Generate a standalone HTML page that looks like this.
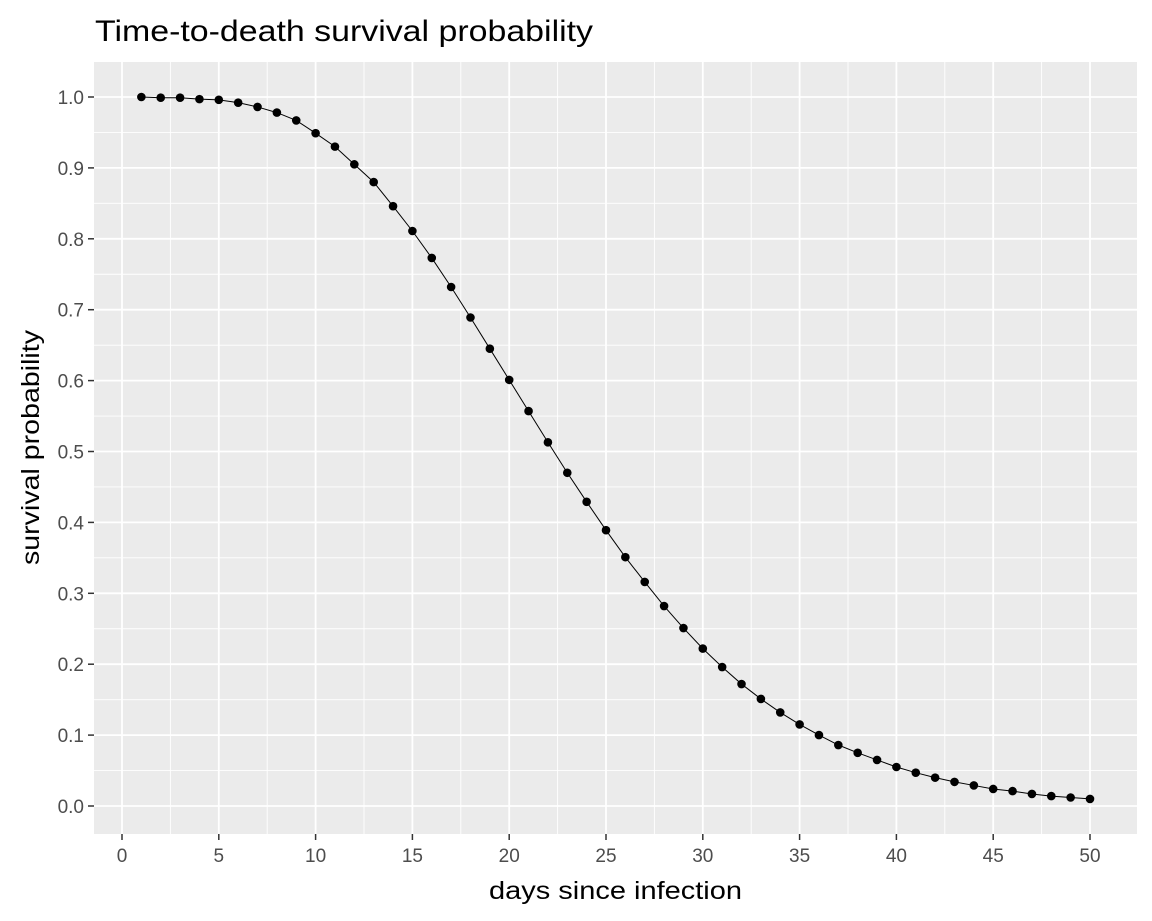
<!DOCTYPE html>
<html><head><meta charset="utf-8"><style>
body{margin:0;background:#fff;}
svg{display:block;font-family:"Liberation Sans",Arial,sans-serif;}
</style></head><body>
<svg id="chart" width="1152" height="921">
<text x="95" y="41" font-size="30" textLength="498" lengthAdjust="spacingAndGlyphs" fill="#000">Time-to-death survival probability</text>
<rect x="94" y="62" width="1043" height="772" fill="#ebebeb"/>
<g id="grid"></g><g id="axes"></g><g id="series"></g>
<text x="489" y="899" font-size="25" textLength="253" lengthAdjust="spacingAndGlyphs" fill="#000">days since infection</text>
<text transform="translate(39,565) rotate(-90)" font-size="25" textLength="235" lengthAdjust="spacingAndGlyphs" fill="#000">survival probability</text>
</svg>
<script>
const days = [];
for (let d = 1; d <= 50; d++) days.push(d);
const survival = [1.0,0.999,0.999,0.997,0.996,0.992,0.986,0.978,0.967,0.949,0.930,0.905,0.880,0.846,0.811,0.773,0.732,0.689,0.645,0.601,0.557,0.513,0.470,0.429,0.389,0.351,0.316,0.282,0.251,0.222,0.196,0.172,0.151,0.132,0.115,0.100,0.086,0.075,0.065,0.055,0.047,0.040,0.034,0.029,0.024,0.021,0.017,0.014,0.012,0.010];
const xTicks = [0,5,10,15,20,25,30,35,40,45,50];
const yTicks = [0.0,0.1,0.2,0.3,0.4,0.5,0.6,0.7,0.8,0.9,1.0];

const NS = "http://www.w3.org/2000/svg";
const x = v => 122 + v * 19.36;
const y = v => 806 - v * 709;
function mk(tag, attrs, parent) {
  const e = document.createElementNS(NS, tag);
  for (const k in attrs) e.setAttribute(k, attrs[k]);
  document.getElementById(parent).appendChild(e);
  return e;
}
for (let i = 0; i < xTicks.length + 1; i++) {
  const v = xTicks[0] - 2.5 + i * 5;
  if (x(v) < 94 || x(v) > 1137) continue;
  const l = mk("line", {x1:x(v), x2:x(v), y1:62, y2:834, stroke:"#fff", "stroke-width":0.9}, "grid");
  
  
}
for (let i = 0; i < yTicks.length + 1; i++) {
  const v = yTicks[0] - 0.05 + i * 0.1;
  if (y(v) < 62 || y(v) > 834) continue;
  const l = mk("line", {x1:94, x2:1137, y1:y(v), y2:y(v), stroke:"#fff", "stroke-width":0.9}, "grid");
  
  
}
xTicks.forEach(v => {
  const l = mk("line", {x1:x(v), x2:x(v), y1:62, y2:834, stroke:"#fff", "stroke-width":1.8}, "grid");
  
  
  const t = mk("line", {x1:x(v), x2:x(v), y1:834, y2:840, stroke:"#333", "stroke-width":1.5}, "axes");
  
  
  const tx = mk("text", {x:x(v), y:862, "font-size":19, fill:"#4d4d4d", "text-anchor":"middle"}, "axes");
  tx.textContent = v;
  
  
});
yTicks.forEach(v => {
  const l = mk("line", {x1:94, x2:1137, y1:y(v), y2:y(v), stroke:"#fff", "stroke-width":1.8}, "grid");
  
  
  const t = mk("line", {x1:88, x2:94, y1:y(v), y2:y(v), stroke:"#333", "stroke-width":1.5}, "axes");
  
  
  const tx = mk("text", {x:84, y:y(v)+7, "font-size":19, fill:"#4d4d4d", "text-anchor":"end"}, "axes");
  tx.textContent = v.toFixed(1);
  
  
});
const pts = days.map((d, i) => x(d) + "," + y(survival[i])).join(" ");
const line = mk("polyline", {points:pts, fill:"none", stroke:"#000", "stroke-width":1}, "series");


days.forEach((d, i) => {
  const c = mk("circle", {cx:x(d), cy:y(survival[i]), r:4.3, fill:"#000"}, "series");
  
  
});
</script>
</body></html>
